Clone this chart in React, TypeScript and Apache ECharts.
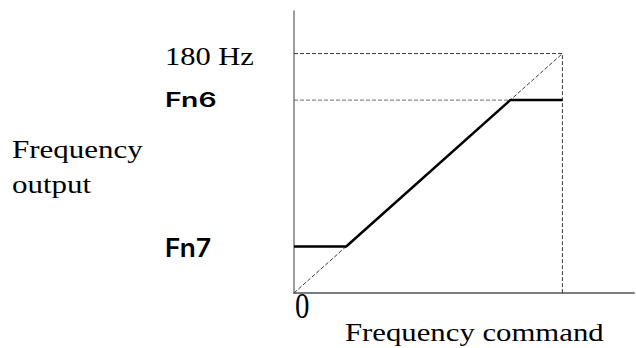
import React, { useEffect, useRef } from "react";
import * as echarts from "echarts";

// Levels of the output frequency (y) and their tick labels
const levelNames = ["Fn7", "Fn6", "180 Hz"];
const levelValues = [35, 145, 180];
// Output characteristic: command (x) -> output (y)
const commandPoints = [0, 35, 145, 180];
const outputPoints = [35, 35, 145, 145];
// Reference (unclamped) characteristic
const refCommand = [0, 180];
const refOutput = [0, 180];
const originLabel = "0";
const yTitleLines = ["Frequency", "output"];
const xTitle = "Frequency command";
const xAxisMax = 228;
const yAxisMax = 212;

export default function App() {
  const ref = useRef<HTMLDivElement>(null);
  useEffect(() => {
    if (!ref.current) return;
    const chart = echarts.init(ref.current, null, { renderer: "svg" });
    const fMax = levelValues[2];
    const fn6 = levelValues[1];
    const dashed = { color: "#3a3a3a", width: 1, type: [4, 2] as number[] };
    chart.setOption({
      animation: false,
      grid: { left: 294, top: 11, width: 340, height: 282 },
      xAxis: {
        type: "value",
        min: 0,
        max: xAxisMax,
        axisLine: { show: true, lineStyle: { color: "#7d7d7d", width: 2 } },
        axisTick: { show: false },
        axisLabel: { show: false },
        splitLine: { show: false },
      },
      yAxis: {
        type: "value",
        min: 0,
        max: yAxisMax,
        axisLine: { show: true, lineStyle: { color: "#7d7d7d", width: 1.5 } },
        axisTick: { show: false },
        axisLabel: { show: false },
        splitLine: { show: false },
      },
      series: [
        {
          type: "line",
          data: refCommand.map((c, i) => [c, refOutput[i]]),
          symbol: "none",
          lineStyle: dashed,
          z: 2,
        },
        {
          type: "line",
          data: [
            [0, fMax],
            [fMax, fMax],
            [fMax, 0],
          ],
          symbol: "none",
          lineStyle: dashed,
          z: 2,
        },
        {
          type: "line",
          data: [
            [0, fn6],
            [fn6, fn6],
          ],
          symbol: "none",
          lineStyle: { ...dashed, color: "#6a6a6a" },
          z: 2,
        },
        {
          type: "line",
          data: commandPoints.map((c, i) => [c, outputPoints[i]]),
          symbol: "none",
          lineStyle: { color: "#000", width: 2.5 },
          z: 5,
        },
      ],
    });

    const py = (v: number) => chart.convertToPixel({ gridIndex: 0 }, [0, v])[1];
    const ox = chart.convertToPixel({ gridIndex: 0 }, [0, 0]);
    const serif = "Liberation Serif, Times New Roman, serif";
    const sans = "Inter, DejaVu Sans, sans-serif";
    const tickStyles = [
      { font: `600 25px ${sans}`, scaleX: 1.05, dy: 1 },
      { font: `600 20px ${sans}`, scaleX: 1.42, dy: 0 },
      { font: `25px ${serif}`, scaleX: 1.22, dy: 3 },
    ];
    const graphics: any[] = levelNames.map((name, i) => ({
      type: "text",
      x: 165,
      y: py(levelValues[i]) + tickStyles[i].dy,
      scaleX: tickStyles[i].scaleX,
      style: {
        text: name,
        font: tickStyles[i].font,
        fill: "#000",
        textAlign: "left",
        textVerticalAlign: "middle",
      },
    }));
    graphics.push({
      type: "text",
      x: ox[0] + 1,
      y: ox[1] + 13,
      scaleX: 0.8,
      style: {
        text: originLabel,
        font: `36px ${serif}`,
        fill: "#000",
        textAlign: "left",
        textVerticalAlign: "middle",
      },
    });
    yTitleLines.forEach((t, i) => {
      graphics.push({
        type: "text",
        x: 12,
        y: 150 + i * 35,
        scaleX: 1.24,
        style: {
          text: t,
          font: `25px ${serif}`,
          fill: "#000",
          textAlign: "left",
          textVerticalAlign: "middle",
        },
      });
    });
    graphics.push({
      type: "text",
      x: 345,
      y: 333,
      scaleX: 1.23,
      style: {
        text: xTitle,
        font: `25px ${serif}`,
        fill: "#000",
        textAlign: "left",
        textVerticalAlign: "middle",
      },
    });
    chart.setOption({ graphic: graphics });
    return () => chart.dispose();
  }, []);
  return (
    <div
      ref={ref}
      style={{ position: "absolute", left: 0, top: 0, width: 636, height: 348, background: "#fff" }}
    />
  );
}
